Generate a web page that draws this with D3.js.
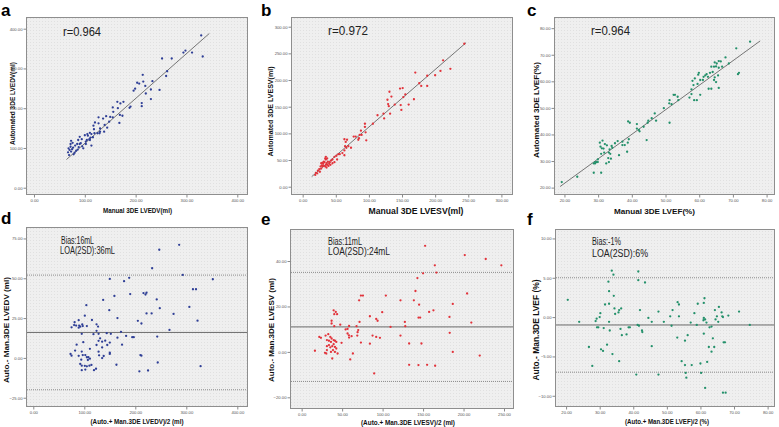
<!DOCTYPE html>
<html><head><meta charset="utf-8">
<script src="https://cdn.jsdelivr.net/npm/d3@7"></script>
<style>body{margin:0;background:#fff}svg{display:block;font-family:Arial,"Liberation Sans",sans-serif}</style>
</head><body><svg id="c" width="779" height="427"></svg>
<script>
// ---------- DATA ----------
// a: Manual vs Automated LVEDV (ml)
const lvedvCorr = [[329,383],[332,330],[311,340],[298,345],[294,340],[271,325],[252,325],[262,293],[260,281],[233,268],[230,247],[215,267],[207,262],[214,284],[203,264],[199,249],[196,244],[219,256],[220,237],[247,246],[230,223],[212,213],[212,205],[190,204],[188,201],[176,216],[170,212],[164,216],[155,202],[165,200],[156,191],[174,181],[168,163],[169,183],[155,177],[150,178],[142,180],[136,174],[148,166],[144,151],[139,158],[127,177],[138,141],[130,141],[127,162],[120,164],[117,156],[119,137],[129,137],[118,147],[113,135],[110,138],[106,131],[105,135],[100,132],[104,120],[110,120],[116,127],[125,137],[130,149],[111,126],[102,110],[102,116],[90,128],[94,122],[109,122],[113,106],[92,112],[97,99],[85,110],[81,106],[88,102],[77,101],[83,93],[90,110],[75,97],[72,110],[72,103],[70,95],[68,99],[73,91],[67,89],[80,88],[86,96],[78,84],[69,82],[87,120],[76,113],[73,118],[95,104]];
const lvedvFit = [[64,71],[345,388]];
// b: Manual vs Automated LVESV (ml)
const lvesvCorr = [[244,268],[212,237],[208,217],[223,221],[200,209],[188,208],[188,189],[176,194],[179,189],[170,214],[160,154],[168,164],[155,173],[151,185],[147,184],[148,153],[149,144],[152,168],[131,178],[134,169],[128,163],[129,155],[130,151],[139,154],[132,137],[122,137],[123,128],[113,134],[106,118],[94,118],[94,112],[95,102],[96,87],[88,105],[86,97],[85,91],[84,88],[89,97],[80,94],[77,94],[69,76],[73,73],[67,88],[63,89],[65,84],[64,76],[66,73],[63,68],[60,63],[63,59],[56,61],[54,61],[51,58],[48,56],[45,51],[43,49],[48,46],[41,46],[40,43],[38,47],[36,44],[35,51],[34,53],[32,47],[31,43],[30,38],[35,41],[37,41],[33,46],[29,40],[27,38],[28,34],[25,33],[23,30],[26,28],[20,26],[19,22],[22,25],[30,45],[34,38],[36,36],[31,39],[28,44],[39,39],[42,41],[45,44],[52,51],[35,56],[37,53]];
const lvesvFit = [[13.6,18.8],[246.7,270]];
// c: Manual vs Automated LVEF (%)
const lvefCorr = [[75.1,74.9],[71.0,72.4],[71.5,62.7],[71.8,63.2],[67.8,69.0],[68.8,66.7],[66.4,67.5],[65.8,67.6],[65.2,66.7],[64.6,67.1],[65.0,65.6],[65.8,65.1],[66.8,65.5],[64.4,65.5],[63.6,65.5],[64.0,63.5],[63.2,63.2],[62.2,62.7],[61.8,62.2],[61.3,61.7],[62.6,61.7],[64.6,61.5],[65.6,62.2],[64.4,60.5],[65.0,59.7],[65.8,57.5],[63.6,57.2],[62.8,57.2],[61.1,60.5],[59.9,63.2],[59.7,62.5],[60.3,60.5],[59.5,59.0],[58.7,61.1],[58.0,60.2],[58.3,58.6],[57.7,57.0],[57.7,55.2],[57.1,53.9],[58.5,52.9],[59.3,52.9],[60.3,54.9],[52.4,54.9],[52.8,54.9],[53.6,54.2],[53.8,52.9],[51.2,52.9],[51.1,51.7],[51.8,51.4],[49.5,49.9],[46.8,47.9],[47.2,45.2],[45.9,46.1],[44.9,45.2],[44.7,44.4],[43.5,42.9],[44.4,37.9],[41.5,43.9],[41.5,42.2],[42.1,41.7],[42.3,41.2],[51.2,44.4],[38.9,44.9],[39.4,44.4],[38.8,36.9],[39.1,38.2],[37.9,36.0],[37.2,36.0],[37.2,37.3],[35.8,37.5],[35.0,36.7],[36.2,32.2],[38.6,33.5],[34.0,35.7],[34.2,35.0],[33.4,34.4],[32.6,35.9],[32.0,36.4],[31.3,37.7],[30.5,36.9],[30.7,35.4],[31.1,34.8],[31.6,34.7],[31.8,33.2],[30.9,32.7],[33.2,33.2],[33.6,32.7],[33.0,31.1],[33.8,30.9],[32.4,29.1],[33.2,29.6],[29.9,30.6],[29.9,29.6],[29.5,29.6],[29.1,29.1],[28.7,29.1],[29.1,29.6],[28.7,25.6],[30.9,25.6],[23.8,24.1],[19.2,22.1]];
const lvefFit = [[18.7,20.4],[78.1,75.2]];
// d: Bland-Altman LVEDV (mean, difference)
const lvedvBA = [[286,71.0],[247,67.9],[233,56.3],[293,52.1],[352,49.4],[188,50.3],[178,48.2],[150,49.6],[159,38.9],[137,36.4],[190,40.1],[216,40.7],[220,39.8],[222,40.9],[242,36.7],[248,31.2],[232,27.9],[222,27.9],[205,23.3],[212,21.6],[149,30.0],[165,25.0],[275,27.6],[306,32.0],[313,43.1],[319,43.1],[322,23.4],[267,17.6],[243,13.4],[194,13.0],[197,13.0],[182,13.8],[172,16.4],[174,8.3],[165,12.7],[152,15.1],[150,9.6],[150,3.3],[150,2.5],[145,8.1],[144,15.5],[141,10.8],[138,1.2],[135,10.2],[135,6.6],[128,15.1],[128,10.7],[131,12.3],[124,17.0],[127,19.7],[124,21.1],[115,23.8],[118,14.9],[124,8.1],[129,1.6],[128,3.9],[135,-0.1],[101,26.5],[104,33.1],[89,23.7],[81,22.4],[90,20.3],[96,21.0],[97,20.0],[92,19.6],[105,20.0],[95,15.1],[89,19.0],[80,20.6],[75,19.2],[84,20.3],[98,9.9],[85,8.3],[82,4.6],[95,4.0],[102,1.8],[97,1.8],[105,0.4],[108,0.4],[111,-0.5],[107,-1.3],[111,5.7],[94,-1.1],[89,1.3],[73,2.5],[75,1.4],[92,-3.8],[101,-5.0],[95,-4.9],[105,-5.3],[110,-4.9],[114,-4.4],[95,-7.7],[102,-7.3],[119,-7.7],[123,-6.8],[163,-4.3],[208,-8.4],[225,-7.9],[244,-2.9],[212,1.4],[210,1.8],[328,-5.2]];
const lvedvLimits = [52, 16, -20];
// e: Bland-Altman LVESV
const lvesvBA = [[152.5,46.7],[201.5,42.6],[227.4,40.9],[164.5,38.1],[246.7,38.1],[166.5,34.9],[150,34.6],[143,32.5],[140.6,26.8],[204.4,25.7],[186.7,21.1],[145.1,20.8],[138.6,22.7],[122.1,22.7],[157.5,17.6],[162.8,18.3],[182.6,15.4],[144.4,15.1],[146.4,15.1],[127.5,13.2],[128,11.3],[109.8,11.0],[99.5,17.5],[104,24.8],[73.2,24.8],[75.7,24.8],[71,22.7],[84.3,15.7],[92.1,14.5],[93.8,13.7],[71.5,13.2],[67.8,11.3],[69.9,9.6],[69.1,8.7],[87.6,7.2],[92.1,6.6],[96.7,6.2],[122.1,7.2],[182.9,8.4],[209.6,12.9],[84.3,3.6],[73.2,4.1],[68.7,7.2],[56.7,8.1],[56.7,10.1],[58.6,11.4],[47.7,12.0],[40.3,11.3],[39.5,18.3],[42.1,17.6],[43.8,16.6],[40.3,16.6],[37,13.7],[37,12.5],[54.3,9.9],[58.6,6.3],[61.7,6.9],[58.4,7.3],[49.3,4.0],[44.4,-0.7],[41.1,0.0],[37.8,-2.9],[60,-3.3],[63.3,-0.7],[21.8,6.6],[23.8,6.2],[16.4,0.5],[28.8,-0.4],[30.4,-0.7],[31.2,5.2],[29.6,7.2],[32.9,7.8],[35.4,6.6],[37,5.9],[39.5,5.2],[33.7,4.9],[36.2,4.4],[33.7,3.0],[31.2,2.5],[35.4,2.0],[37.8,2.5],[39.5,3.4],[41.1,2.2],[42.8,1.5],[41.1,4.9],[42.8,4.4],[36.2,0.0],[38.7,0.8],[31.2,0.8],[89.6,-9.5],[132.8,-5.7],[144.3,-5.8],[155,-5.7],[164.9,-6.1],[148,3.7],[132.8,3.7],[186.7,0.0],[220,-1.6]];
const lvesvLimits = [35, 11, -13];
// f: Bland-Altman LVEF
const lvefBA = [[20.5,2.2],[23.9,-0.6],[26.8,-3.8],[27.8,-6.2],[28.8,-0.5],[29.1,-0.2],[29.2,-1.3],[29.6,-1.3],[30.0,0.0],[30.2,0.5],[30.4,-4.1],[31.0,-4.3],[31.2,-1.4],[31.6,1.6],[32.2,-3.5],[32.6,4.5],[32.8,3.3],[32.8,1.7],[32.8,-0.6],[33.0,-1.7],[33.6,5.9],[34.1,5.4],[33.8,-4.7],[34.2,2.7],[34.4,1.1],[34.6,0.4],[35.6,0.6],[35.8,0.9],[35.8,-5.6],[36.4,1.1],[36.2,-1.5],[36.6,-2.3],[38.0,-2.2],[38.6,-1.3],[39.0,-1.3],[40.9,-7.3],[41.3,-1.0],[41.7,-1.1],[41.5,5.8],[41.5,4.7],[42.0,0.9],[42.6,-1.7],[42.7,-1.9],[43.5,4.4],[44.5,-0.1],[45.5,-0.6],[45.5,-3.7],[47.5,0.7],[47.5,-7.3],[49.1,-0.6],[51.0,0.1],[51.4,-1.1],[51.7,0.9],[53.1,-2.6],[53.2,1.9],[53.6,1.6],[53.6,0.1],[54.4,-5.6],[55.4,-3.0],[55.4,-6.1],[55.6,-7.1],[55.8,-7.7],[56.2,-2.3],[57.1,-0.7],[57.4,-6.1],[58.2,0.5],[58.9,-1.0],[59.2,1.7],[60.0,-5.9],[60.2,-7.1],[60.9,-0.4],[61.0,1.8],[61.0,-2.1],[61.0,-0.1],[61.2,2.4],[61.4,-0.3],[61.8,-0.7],[61.4,-9.0],[62.0,-5.7],[62.5,-3.8],[62.7,-1.3],[63.3,-1.2],[63.3,-4.4],[63.7,-2.7],[64.1,-3.8],[64.3,0.9],[64.5,-0.3],[64.9,0.1],[65.3,-0.6],[65.5,1.3],[66.3,0.6],[66.5,0.1],[66.7,0.0],[66.9,-3.2],[67.3,-3.2],[66.7,-9.6],[67.5,-9.6],[68.3,0.2],[71.5,0.7],[74.7,-1.0]];
const lvefLimits = [5, -1, -7];
// tick values
const edvTicks = [0,100,200,300,400];
const esvTicks = [0,50,100,150,200,250,300];
const efTicks = [20,30,40,50,60,70,80];
const edvDiffTicks = [-25,0,25,50,75];
const esvMeanTicks = [0,50,100,150,200,250];
const esvDiffTicks = [-20,0,20,40];
const efDiffTicks = [-10,-5,0,5,10];

// ---------- LAYOUT ----------
const BLUE = '#2f3f96', RED = '#e2333b', GREEN = '#23906a';
const panels = [
  {letter:'a', lx:1, ly:15.5, pts:lvedvCorr, color:BLUE, fit:lvedvFit, box:[26,247,17,194], xDom:[-15.7,419.1], yDom:[-15.8,429.4], xT:edvTicks, yT:edvTicks,
   xt:{t:'Manual 3DE LVEDV(ml)', x:137.5, y:213, len:69, fs:7}, yt:{t:'Automated 3DE LVEDV(ml)', x:15, y:103.5, len:83, fs:7},
   notes:[{t:'r=0.964', x:63, y:36, len:38, fs:12.5}]},
  {letter:'b', lx:261, ly:15.5, pts:lvesvCorr, color:RED, fit:lvesvFit, box:[291,512,17,194], xDom:[-17.6,316], yDom:[-13.7,318.2], xT:esvTicks, yT:esvTicks,
   xt:{t:'Manual 3DE LVESV(ml)', x:416, y:214, len:95, fs:8.5}, yt:{t:'Automated 3DE LVESV(ml)', x:273, y:111.5, len:90, fs:7.5},
   notes:[{t:'r=0.972', x:328, y:35, len:40, fs:12.5}]},
  {letter:'c', lx:527, ly:15.5, pts:lvefCorr, color:GREEN, fit:lvefFit, box:[554,774,17,194], xDom:[16.9,82.2], yDom:[17.6,84.2], xT:efTicks, yT:efTicks,
   xt:{t:'Manual 3DE LVEF(%)', x:654.5, y:214, len:81, fs:8}, yt:{t:'Automated 3DE LVEF(%)', x:539, y:110, len:96, fs:8},
   notes:[{t:'r=0.964', x:591, y:35, len:39, fs:12.5}]},
  {letter:'d', lx:1, ly:224, pts:lvedvBA, color:BLUE, lim:lvedvLimits, box:[26,247,227,406], xDom:[-14.3,419], yDom:[-30.2,82.2], xT:edvTicks, yT:edvDiffTicks,
   xt:{t:'(Auto.+ Man.3DE LVEDV)/2 (ml)', x:137, y:424, len:93, fs:7}, yt:{t:'Auto.- Man.3DE LVEDV (ml)', x:9, y:330, len:106, fs:8},
   notes:[{t:'Bias:16mL', x:61, y:243.5, len:33, fs:10},{t:'LOA(2SD):36mL', x:60, y:253.5, len:55, fs:10}]},
  {letter:'e', lx:261, ly:225, pts:lvesvBA, color:RED, lim:lvesvLimits, box:[290,513,229,408], xDom:[-14.4,261.1], yDom:[-24.7,54.1], xT:esvMeanTicks, yT:esvDiffTicks,
   xt:{t:'(Auto.+ Man.3DE LVESV)/2 (ml)', x:408, y:424.5, len:94, fs:7}, yt:{t:'Auto.- Man.3DE LVESV (ml)', x:274, y:330, len:104, fs:8},
   notes:[{t:'Bias:11mL', x:328, y:244.8, len:34, fs:10},{t:'LOA(2SD):24mL', x:328, y:255, len:62, fs:10}]},
  {letter:'f', lx:527, ly:224.5, pts:lvefBA, color:GREEN, lim:lvefLimits, box:[555,774,229,406], xDom:[16.7,81.9], yDom:[-11.3,11.2], xT:efTicks, yT:efDiffTicks,
   xt:{t:'(Auto.+ Man.3DE LVEF)/2 (%)', x:667, y:424, len:84, fs:7}, yt:{t:'Auto.- Man.3DE LVEF (%)', x:539, y:330, len:101, fs:8.4},
   notes:[{t:'Bias:-1%', x:592, y:245, len:29, fs:10},{t:'LOA(2SD):6%', x:592, y:256.5, len:56, fs:10}]}
];

// ---------- DRAW ----------
const svg = d3.select('#c');
const defs = svg.append('defs');
const pat = defs.append('pattern').attr('id','dots').attr('width',3).attr('height',3).attr('patternUnits','userSpaceOnUse');
pat.append('rect').attr('width',3).attr('height',3).attr('fill','#efefef');
pat.append('rect').attr('width',1).attr('height',1).attr('fill','#e0e0e0');
const fmt = d3.format('.2f');

panels.forEach(p => {
  const [x0,x1,y0,y1] = p.box;
  const x = d3.scaleLinear().domain(p.xDom).range([x0,x1]);
  const y = d3.scaleLinear().domain(p.yDom).range([y1,y0]);
  const g = svg.append('g');

  g.append('rect').attr('x',x0+0.5).attr('y',y0+0.5).attr('width',x1-x0).attr('height',y1-y0)
    .attr('fill','url(#dots)').attr('stroke','#8e8e8e').attr('stroke-width',1);

  const xa = g.append('g').attr('transform',`translate(0,${y1+0.5})`)
    .call(d3.axisBottom(x).tickValues(p.xT).tickFormat(fmt).tickSize(3).tickSizeOuter(0).tickPadding(1.5));
  const ya = g.append('g').attr('transform',`translate(${x0+0.5},0)`)
    .call(d3.axisLeft(y).tickValues(p.yT).tickFormat(fmt).tickSize(3).tickSizeOuter(0).tickPadding(1));
  [xa,ya].forEach(a => {
    a.select('.domain').remove();
    a.selectAll('line').attr('stroke','#8a8a8a');
    a.selectAll('text').attr('font-size',4.2).attr('fill','#555').attr('font-family','Arial,"Liberation Sans",sans-serif');
  });

  if (p.lim) {
    p.lim.forEach((v,i) => {
      g.append('line').attr('x1',x0+1).attr('x2',x1).attr('y1',y(v)).attr('y2',y(v))
        .attr('stroke', i===1 ? '#6a6a6a' : '#808080').attr('stroke-width', i===1 ? 1 : 0.9)
        .attr('stroke-dasharray', i===1 ? null : '1,1');
    });
  }
  if (p.fit) {
    g.append('line').attr('x1',x(p.fit[0][0])).attr('y1',y(p.fit[0][1])).attr('x2',x(p.fit[1][0])).attr('y2',y(p.fit[1][1]))
      .attr('stroke','#555').attr('stroke-width',0.8);
  }
  g.selectAll('circle.pt').data(p.pts).join('circle').attr('class','pt')
    .attr('cx',d=>x(d[0])).attr('cy',d=>y(d[1])).attr('r',1.15).attr('fill',p.color);

  p.notes.forEach(n => {
    g.append('text').attr('x',n.x).attr('y',n.y).attr('font-size',n.fs).attr('fill','#222')
      .attr('textLength',n.len).attr('lengthAdjust','spacingAndGlyphs').text(n.t);
  });
  g.append('text').attr('x',p.xt.x).attr('y',p.xt.y).attr('text-anchor','middle').attr('font-weight','bold')
    .attr('font-size',p.xt.fs).attr('fill','#111').attr('textLength',p.xt.len).attr('lengthAdjust','spacingAndGlyphs').text(p.xt.t);
  g.append('text').attr('transform',`translate(${p.yt.x},${p.yt.y}) rotate(-90)`).attr('text-anchor','middle').attr('font-weight','bold')
    .attr('font-size',p.yt.fs).attr('fill','#111').attr('textLength',p.yt.len).attr('lengthAdjust','spacingAndGlyphs').text(p.yt.t);
  svg.append('text').attr('x',p.lx).attr('y',p.ly).attr('font-size',17).attr('font-weight','bold').attr('fill','#000').text(p.letter);
});
</script></body></html>
